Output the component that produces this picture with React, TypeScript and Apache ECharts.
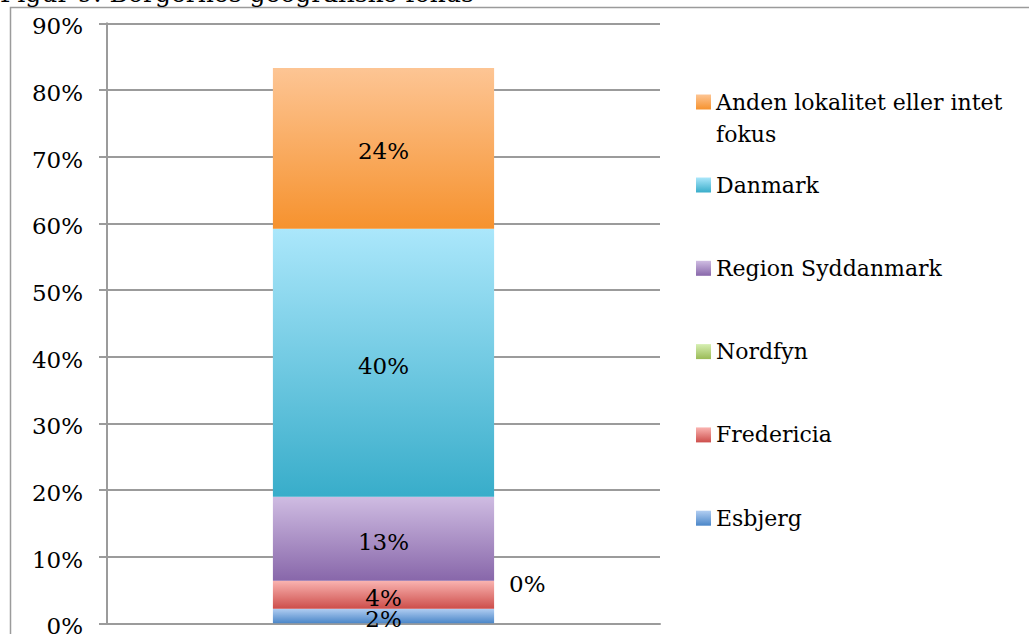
import React, { useEffect, useRef } from "react";
import * as echarts from "echarts";

const categories = [""];
const seriesNames = [
  "Esbjerg",
  "Fredericia",
  "Nordfyn",
  "Region Syddanmark",
  "Danmark",
  "Anden lokalitet eller intet fokus",
];
const esbjerg = [2.2];
const fredericia = [4.2];
const nordfyn = [0];
const regionSyddanmark = [12.6];
const danmark = [40.2];
const anden = [24.1];
const seriesValues = [esbjerg, fredericia, nordfyn, regionSyddanmark, danmark, anden];
const gradients: [string, string][] = [
  ["#B2CEF2", "#4A86C8"],
  ["#FAB4B1", "#CD4E4B"],
  ["#D6EFB2", "#9ABB57"],
  ["#CFBCE2", "#8867AA"],
  ["#ABE7FB", "#38ADCA"],
  ["#FDC594", "#F6922E"],
];
const yTicks = [0, 10, 20, 30, 40, 50, 60, 70, 80, 90];
const titleText = "Figur 9: Borgernes geografiske fokus";

const FONT = "'DejaVu Serif', serif";

export default function App() {
  const ref = useRef<HTMLDivElement>(null);
  useEffect(() => {
    if (!ref.current) return;
    const chart = echarts.init(ref.current, undefined, { renderer: "svg" });
    const series = seriesNames.map((name, i) => ({
      name,
      type: "bar",
      stack: "total",
      barWidth: "40%",
      data: seriesValues[i],
      itemStyle: {
        color: new echarts.graphic.LinearGradient(0, 0, 0, 1, [
          { offset: 0, color: gradients[i][0] },
          { offset: 1, color: gradients[i][1] },
        ]),
      },
      label: {
        show: true,
        position: name === "Nordfyn" ? "right" : "inside",
        distance: 15,
        offset: [0, 3],
        color: "#000",
        fontFamily: FONT,
        fontSize: 23,
        formatter: (p: any) => Math.round(p.value) + "%",
      },
    }));
    chart.setOption({
      animation: false,
      textStyle: { fontFamily: FONT },
      grid: {
        left: 107,
        right: 369,
        top: 23.3,
        bottom: 10.7,
        containLabel: false,
        outerBoundsMode: "none",
      },
      xAxis: {
        type: "category",
        data: categories,
        axisLine: { show: true, lineStyle: { color: "#9b9b9b", width: 2 } },
        axisTick: { show: false },
        axisLabel: { show: false },
      },
      yAxis: {
        type: "value",
        min: yTicks[0],
        max: yTicks[yTicks.length - 1],
        interval: 10,
        axisLine: { show: true, lineStyle: { color: "#9b9b9b", width: 2 } },
        axisTick: { show: true, length: 8, lineStyle: { color: "#9b9b9b", width: 2 } },
        splitLine: { show: true, lineStyle: { color: "#9b9b9b", width: 2 } },
        axisLabel: {
          margin: 24,
          color: "#000",
          fontFamily: FONT,
          fontSize: 23,
          verticalAlign: "top",
          lineHeight: 6,
          formatter: (v: number) => v + "%",
        },
      },
      legend: [
        {
          orient: "vertical",
          left: 696,
          top: 90,
          padding: 0,
          data: ["Anden lokalitet eller intet fokus"],
          icon: "rect",
          itemWidth: 15,
          itemHeight: 15,
          itemGap: 0,
          formatter: () => "Anden lokalitet eller intet",
          textStyle: { fontFamily: FONT, fontSize: 22, color: "#000", lineHeight: 24 },
        },
        {
          orient: "vertical",
          left: 696,
          top: 173,
          padding: 0,
          data: ["Danmark", "Region Syddanmark", "Nordfyn", "Fredericia", "Esbjerg"],
          icon: "rect",
          itemWidth: 15,
          itemHeight: 15,
          itemGap: 59.3,
          textStyle: { fontFamily: FONT, fontSize: 22, color: "#000", lineHeight: 24 },
        },
      ],
      graphic: [
        {
          type: "rect",
          shape: { x: 10.5, y: 7.5, width: 1100, height: 800 },
          style: { fill: "none", stroke: "#9b9b9b", lineWidth: 1.5 },
          silent: true,
        },
        {
          type: "text",
          x: 716,
          y: 123,
          style: { text: "fokus", fontFamily: FONT, fontSize: 22, fill: "#000" },
          silent: true,
        },
        {
          type: "text",
          x: 0,
          y: 6,
          style: {
            text: titleText,
            fontFamily: FONT,
            fontSize: 25,
            fill: "#000",
            textVerticalAlign: "bottom",
          },
          silent: true,
        },
      ],
      series,
    });
    return () => chart.dispose();
  }, []);
  return (
    <div
      ref={ref}
      style={{ position: "fixed", left: 0, top: 0, width: 1029, height: 634, background: "#fff" }}
    />
  );
}
